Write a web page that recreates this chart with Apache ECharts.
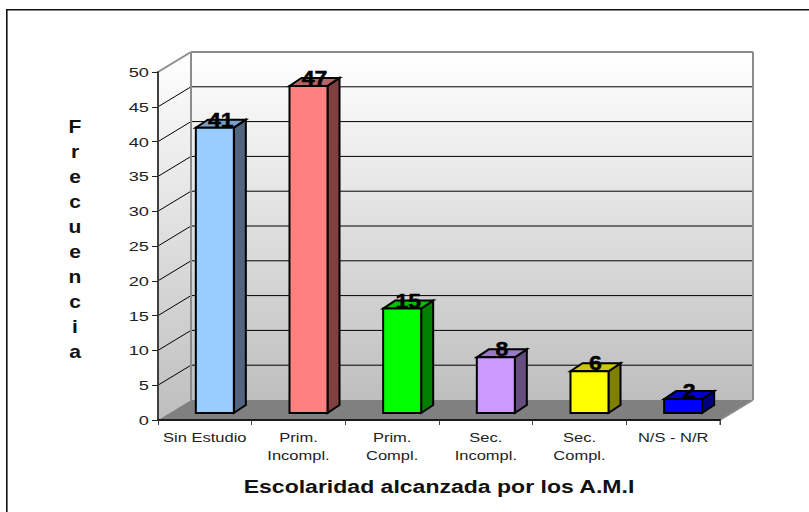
<!DOCTYPE html>
<html><head><meta charset="utf-8">
<style>
html,body{margin:0;padding:0;background:#fff}
#c{width:809px;height:512px}
</style>
<script src="https://cdn.jsdelivr.net/npm/echarts@6/dist/echarts.min.js"></script>
</head><body><div id="c"></div>
<script>
const categories = ['Sin Estudio','Prim.\nIncompl.','Prim.\nCompl.','Sec.\nIncompl.','Sec.\nCompl.','N/S - N/R'];
const values = [41,47,15,8,6,2];
const frontColors = ['#99CCFF','#FF8080','#00FF00','#CC99FF','#FFFF00','#0000FF'];
const sideColors  = ['#4F6580','#804040','#008000','#664D80','#808000','#000080'];
const topColors   = ['#7A9FC8','#B86464','#00C000','#9A78C4','#C8C800','#0000C8'];
const gridValues  = [5,10,15,20,25,30,35,40,45];
const xTitle = 'Escolaridad alcanzada por los A.M.I';
const yTitle = 'Frecuencia';

const DX = 33, DY = -20;        // depth of the chart box
const BX = 10, BY = -7;         // bar offset inside the box
const BW = 19, SX = 12, SY = -8; // half width and depth of a bar
const FONT = '"Liberation Sans", Arial, sans-serif';

const chart = echarts.init(document.getElementById('c'), null, {renderer:'svg'});
const poly = (points, fill, stroke, lw) => ({type:'polygon', shape:{points},
  style:{fill, stroke: stroke||'none', lineWidth: lw||0, lineJoin:'miter'}});
const line = (x1,y1,x2,y2,stroke,lw) => ({type:'line', shape:{x1,y1,x2,y2}, style:{stroke, lineWidth:lw}});

function renderBox(params, api){
  const c = params.coordSys, l=c.x, r=c.x+c.width, t=c.y, b=c.y+c.height;
  const g = new echarts.graphic.LinearGradient(0,0,0,1,[
    {offset:0,color:'#FFFFFF'},{offset:1,color:'#BEBEBE'}]);
  return {type:'group', children:[
    poly([[l+DX,t+DY],[r+DX,t+DY],[r+DX,b+DY],[l+DX,b+DY]], g),
    poly([[l,t],[l+DX,t+DY],[l+DX,b+DY],[l,b]], g),
    poly([[l,b],[r,b],[r+DX,b+DY],[l+DX,b+DY]], '#808080')
  ]};
}
function renderBoxEdges(params, api){
  const c = params.coordSys, l=c.x, r=c.x+c.width, t=c.y, b=c.y+c.height;
  return {type:'group', children:[
    line(l+DX,t+DY,r+DX,t+DY,'#8C8C8C',2),
    line(r+DX,t+DY,r+DX,b+DY,'#8C8C8C',2),
    line(l+DX,t+DY,l+DX,b+DY,'#8C8C8C',2),
    line(l,t,l+DX,t+DY,'#8C8C8C',2),
    line(r,b,r+DX,b+DY,'#8C8C8C',1.5),
    line(r,b,r,b+5,'#404040',1)
  ]};
}
function renderGrid(params, api){
  const c = params.coordSys, l=c.x, r=c.x+c.width;
  const y = api.coord([0, api.value(0)])[1];
  return {type:'group', children:[
    line(l,y,l+DX,y+DY,'#000',1),
    line(l+DX,y+DY,r+DX,y+DY,'#000',1)
  ]};
}
function renderBar(params, api){
  const i = api.value(0), v = api.value(1);
  const cx = api.coord([i,v])[0]+BX;
  const yt = api.coord([i,v])[1]+BY, yb = api.coord([i,0])[1]+BY;
  const xl = cx-BW, xr = cx+BW;
  return {type:'group', children:[
    poly([[xr,yt],[xr+SX,yt+SY],[xr+SX,yb+SY],[xr,yb]], sideColors[i], '#000', 2),
    poly([[xl,yt],[xr,yt],[xr+SX,yt+SY],[xl+SX,yt+SY]], topColors[i], '#000', 2),
    poly([[xl,yt],[xr,yt],[xr,yb],[xl,yb]], frontColors[i], '#000', 2),
    {type:'text', style:{text:String(v), x:cx+SX/2, y:yt-8, align:'center', verticalAlign:'middle',
      fill:'#000', stroke:'#000', lineWidth:0.5, font:'bold 20px '+FONT}}
  ]};
}
const custom = (name, renderItem, data, z) => ({name, type:'custom', renderItem, data, z, silent:true, clip:false,
  coordinateSystem:'cartesian2d', animation:false});

chart.setOption({
  animation:false,
  backgroundColor:'#fff',
  graphic:[
    {type:'polyline', z:0, silent:true, shape:{points:[[6.8,512],[6.8,9.8],[809,9.8]]},
      style:{stroke:'#111', lineWidth:1.6, fill:'none'}},
    {type:'text', z:5, silent:true, x:75, y:240,
      style:{text:yTitle.split('').join('\n'), align:'center', verticalAlign:'middle',
        font:'bold 17.5px '+FONT, lineHeight:25, fill:'#111'}}
  ],
  grid:{left:158, top:72, width:562, height:348, containLabel:false},
  xAxis:{type:'category', data:categories, boundaryGap:true, z:5,
    name:xTitle, nameLocation:'middle', nameGap:57,
    nameTextStyle:{fontFamily:FONT, fontWeight:'bold', fontSize:18, color:'#111'},
    axisLine:{lineStyle:{color:'#1a1a1a', width:2}},
    axisTick:{show:true, length:5, alignWithLabel:false, interval:0, lineStyle:{color:'#404040'}},
    axisLabel:{interval:0, margin:9, fontFamily:FONT, fontSize:13, lineHeight:18, color:'#222', hideOverlap:false},
    splitLine:{show:false}},
  yAxis:{type:'value', min:0, max:50, interval:5, z:5,
    axisLine:{show:true, onZero:false, lineStyle:{color:'#404040', width:2}},
    axisTick:{show:true, length:6, lineStyle:{color:'#222'}},
    axisLabel:{margin:9, fontFamily:FONT, fontSize:13.5, color:'#222'},
    splitLine:{show:false}},
  series:[
    custom('box', renderBox, [[0,0]], 1),
    custom('grid', renderGrid, gridValues.map(v=>[v]), 2),
    custom('edges', renderBoxEdges, [[0,0]], 3),
    custom('bars', renderBar, values.map((v,i)=>[i,v]), 6)
  ]
});

// The reference's text is stretched sideways; widen each text around its anchor.
const stretch = {'13.5px':1.35, '13px':1.27, '18px':1.28, '17.5px':1.2, '20px':1.15};
chart.getZr().refreshImmediately();
document.querySelectorAll('#c svg text').forEach(t => {
  const s = (t.getAttribute('style')||'') + ' ' + (t.getAttribute('font-size')||'');
  const key = Object.keys(stretch).find(k => s.includes(k));
  if (!key) return;
  const b = t.getBBox(), ax = t.getAttribute('text-anchor')==='end' ? b.x+b.width : b.x+b.width/2;
  const old = t.getAttribute('transform')||'';
  t.setAttribute('transform', `${old} translate(${ax},0) scale(${stretch[key]},1) translate(${-ax},0)`);
});
</script></body></html>
